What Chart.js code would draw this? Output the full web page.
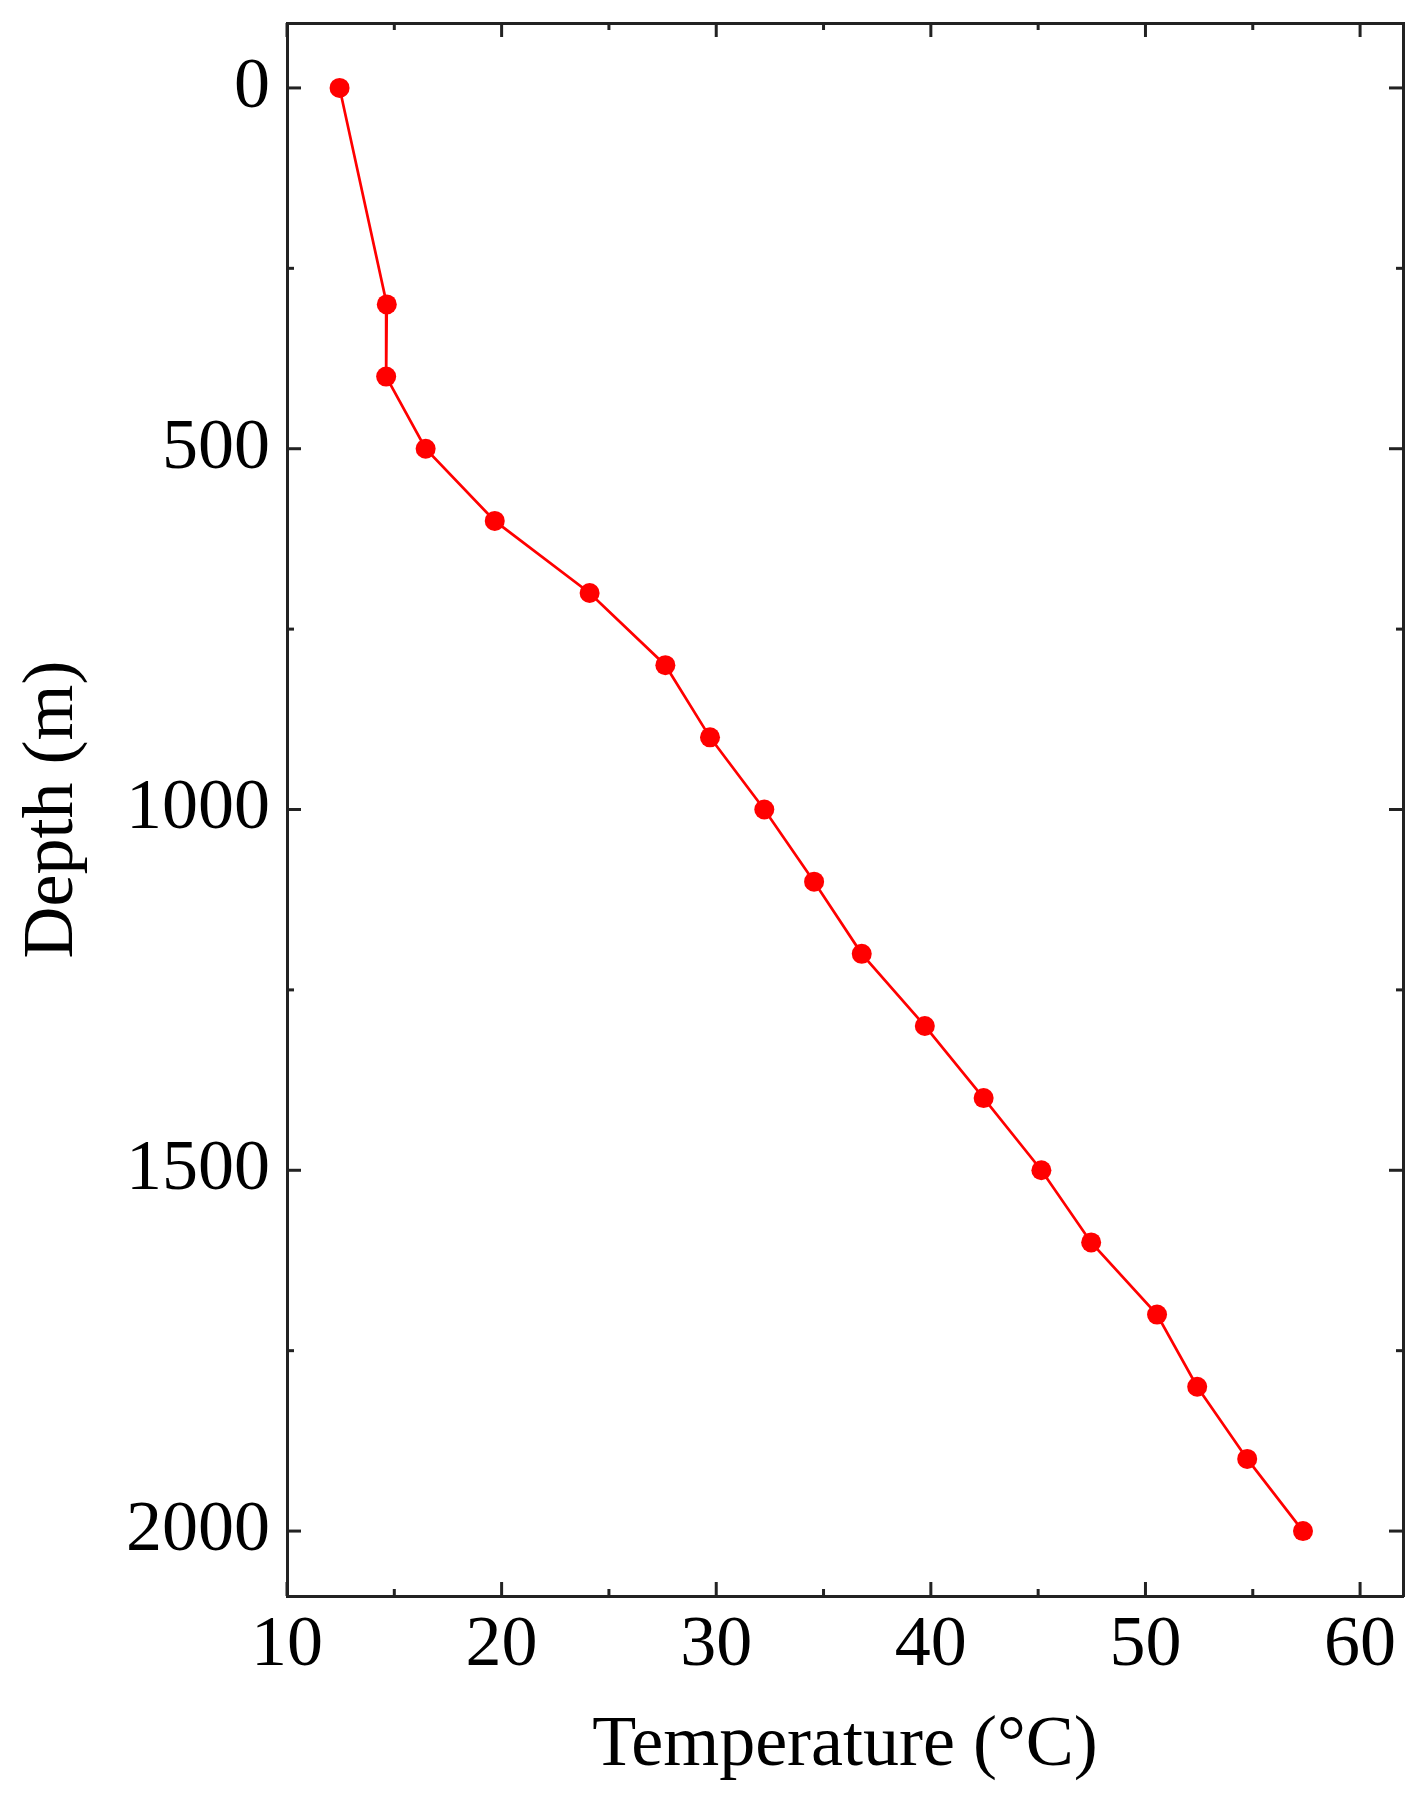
<!DOCTYPE html>
<html>
<head>
<meta charset="utf-8">
<title>Depth vs Temperature</title>
<script src="https://cdn.jsdelivr.net/npm/chart.js@4"></script>
<style>
  html, body { margin: 0; padding: 0; background: #fff; }
  #wrap { width: 1425px; height: 1796px; }
</style>
</head>
<body>
<div id="wrap"><canvas id="chart" width="1425" height="1796"></canvas></div>
<script>
/* depth profile */

const depths = [0, 300, 400, 500, 600, 700, 800, 900, 1000, 1100, 1200, 1300, 1400, 1500, 1600, 1700, 1800, 1900, 2000];
const temps = [12.45, 14.65, 14.62, 16.46, 19.68, 24.1, 27.63, 29.71, 32.24, 34.56, 36.78, 39.72, 42.46, 45.15, 47.47, 50.54, 52.41, 54.74, 57.34];

const xTicks = [10, 20, 30, 40, 50, 60];
const xMinor = [15, 25, 35, 45, 55];
const yTicks = [0, 500, 1000, 1500, 2000];
const yMinor = [250, 750, 1250, 1750];

const xTitle = 'Temperature (°C)';
const yTitle = 'Depth (m)';

const FONT = "'Liberation Serif', 'Times New Roman', serif";
const AXIS = '#222';
const RED = '#ff0000';

function fixedTicks(list) {
  return scale => { scale.ticks = list.map(v => ({ value: v })); };
}

// axis box sizes, so the plot area lands where it is in the figure;
// the label overhang padding is dropped, labels never reach the ends here
function fitWidth(w) {
  return scale => {
    scale.width = w;
    scale.paddingTop = scale.paddingBottom = scale.paddingLeft = scale.paddingRight = 0;
  };
}
function fitHeight(h) {
  return scale => {
    scale.height = h;
    scale.paddingTop = scale.paddingBottom = scale.paddingLeft = scale.paddingRight = 0;
  };
}

// Origin-style ticks: pointing into the plot, on all four sides
const innerTicks = {
  id: 'innerTicks',
  afterDraw(chart) {
    const { ctx, chartArea: a, scales } = chart;
    ctx.save();
    ctx.strokeStyle = AXIS;
    ctx.lineWidth = 3;
    const mark = (x1, y1, x2, y2) => {
      ctx.beginPath();
      ctx.moveTo(x1, y1);
      ctx.lineTo(x2, y2);
      ctx.stroke();
    };
    const xs = (list, len) => list.forEach(v => {
      const px = scales.x.getPixelForValue(v);
      mark(px, a.bottom, px, a.bottom - len);
      mark(px, a.top, px, a.top + len);
    });
    const ys = (list, len) => list.forEach(v => {
      const py = scales.y.getPixelForValue(v);
      mark(a.left, py, a.left + len, py);
      mark(a.right, py, a.right - len, py);
    });
    xs(xTicks, 14);
    xs(xMinor, 7);
    ys(yTicks, 14);
    ys(yMinor, 7);
    ctx.restore();
  }
};

const tickFont = { family: FONT, size: 72 };
const titleFont = { family: FONT, size: 72 };
const border = { display: true, color: AXIS, width: 3 };
const noGrid = { display: false, drawTicks: false };
const plain = v => String(v);

new Chart(document.getElementById('chart').getContext('2d'), {
  type: 'scatter',
  data: {
    datasets: [{
      label: 'Temperature',
      data: depths.map((d, i) => ({ x: temps[i], y: d })),
      showLine: true,
      borderColor: RED,
      borderWidth: 2.7,
      backgroundColor: RED,
      pointBackgroundColor: RED,
      pointBorderWidth: 0,
      pointRadius: 10,
      clip: false
    }]
  },
  options: {
    responsive: false,
    animation: false,
    devicePixelRatio: 1,
    layout: { padding: 0 },
    plugins: {
      legend: { display: false },
      tooltip: { enabled: false }
    },
    scales: {
      x: {
        type: 'linear',
        position: 'bottom',
        min: 10,
        max: 62,
        afterBuildTicks: fixedTicks(xTicks),
        afterFit: fitHeight(200),
        grid: noGrid,
        border,
        ticks: { font: tickFont, color: '#000', padding: 7, maxRotation: 0, autoSkip: false, callback: plain },
        title: { display: true, text: xTitle, font: titleFont, color: '#000', padding: { top: 0, bottom: 7 } }
      },
      x2: {
        type: 'linear',
        position: 'top',
        min: 10,
        max: 62,
        afterFit: fitHeight(23),
        grid: noGrid,
        border,
        ticks: { display: false }
      },
      y: {
        type: 'linear',
        position: 'left',
        reverse: true,
        min: -90,
        max: 2090,
        afterBuildTicks: fixedTicks(yTicks),
        afterFit: fitWidth(287),
        grid: noGrid,
        border,
        ticks: { font: tickFont, color: '#000', padding: 17, autoSkip: false, callback: plain },
        title: { display: true, text: yTitle, font: titleFont, color: '#000', padding: { top: 10, bottom: 0 } }
      },
      y2: {
        type: 'linear',
        position: 'right',
        reverse: true,
        min: -90,
        max: 2090,
        afterFit: fitWidth(22),
        grid: noGrid,
        border,
        ticks: { display: false }
      }
    }
  },
  plugins: [innerTicks]
});
</script>
</body>
</html>
